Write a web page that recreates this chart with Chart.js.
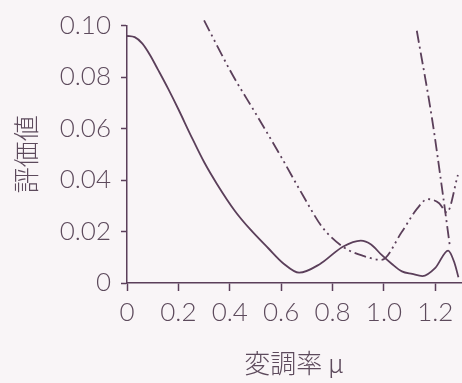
<!DOCTYPE html>
<html>
<head>
<meta charset="utf-8">
<script src="https://cdn.jsdelivr.net/npm/chart.js@4.4.0/dist/chart.umd.min.js"></script>
<style>
  html, body { margin: 0; padding: 0; background: #f9f5f7; }
  #wrap { width: 462px; height: 383px; position: relative; }
</style>
</head>
<body>
<div id="wrap"><canvas id="chart"></canvas></div>
<script>
// values
var solidX = [0, 0.03, 0.06, 0.09, 0.12, 0.16, 0.20, 0.25, 0.30, 0.35, 0.42, 0.48, 0.55, 0.61, 0.67, 0.75, 0.84, 0.91, 0.95, 0.99, 1.03, 1.07, 1.11, 1.15, 1.20, 1.25, 1.275, 1.29];
var solidY = [0.096, 0.0955, 0.093, 0.0885, 0.083, 0.0755, 0.0675, 0.057, 0.047, 0.0385, 0.028, 0.0208, 0.0135, 0.0075, 0.004, 0.0073, 0.0141, 0.0165, 0.015, 0.011, 0.0075, 0.0045, 0.0035, 0.0027, 0.0059, 0.0126, 0.0077, 0.0022];

var dashDotDotX = [0.30, 0.41, 0.50, 0.60, 0.685, 0.76, 0.84, 0.92, 0.99, 1.07, 1.13, 1.17, 1.215, 1.245, 1.288];
var dashDotDotY = [0.102, 0.081, 0.066, 0.049, 0.034, 0.0217, 0.0141, 0.0105, 0.009, 0.0199, 0.029, 0.0326, 0.031, 0.0274, 0.042];

var dashDotX = [1.128, 1.187, 1.23, 1.257];
var dashDotY = [0.098, 0.064, 0.034, 0.014];

var xTicks = [0, 0.2, 0.4, 0.6, 0.8, 1.0, 1.2];
var yTicks = [0, 0.02, 0.04, 0.06, 0.08, 0.10];

var INK = '#5b3f5a';
var TEXT = '#5d4a5c';

function toPoints(xs, ys) {
  return xs.map(function (x, i) { return { x: x, y: ys[i] }; });
}

function lineSet(xs, ys, dash, width) {
  return {
    data: toPoints(xs, ys),
    borderColor: INK,
    borderWidth: width,
    borderDash: dash,
    pointRadius: 0,
    cubicInterpolationMode: 'monotone',
    fill: false,
    clip: false,
  };
}

var tickFont = { family: 'Lato', weight: 300, size: 26 };
var titleFont = { family: 'Noto Sans CJK JP', weight: 300, size: 26 };

new Chart(document.getElementById('chart').getContext('2d'), {
  type: 'line',
  data: {
    datasets: [
      lineSet(solidX, solidY, [], 1.8),
      lineSet(dashDotDotX, dashDotDotY, [12, 4, 2, 4, 2, 4], 1.8),
      lineSet(dashDotX, dashDotY, [12, 4, 2, 4], 1.8),
    ],
  },
  options: {
    responsive: true,
    maintainAspectRatio: false,
    animation: false,
    layout: { padding: { top: 25, right: 1, left: 0, bottom: 0 } },
    plugins: { legend: { display: false }, tooltip: { enabled: false } },
    scales: {
      x: {
        type: 'linear',
        min: 0,
        max: 1.3,
        afterBuildTicks: function (scale) {
          scale.ticks = xTicks.map(function (v) { return { value: v }; });
        },
        afterFit: function (scale) { scale.height = 100; },
        border: { display: true, color: INK, width: 1.5 },
        grid: { drawOnChartArea: false, color: INK, tickLength: 8, tickWidth: 1.5 },
        ticks: {
          color: TEXT,
          font: tickFont,
          padding: 6,
          maxRotation: 0,
          callback: function (v) { return v === 0 ? '0' : v.toFixed(1); },
        },
        title: { display: true, text: '変調率 μ', color: TEXT, font: titleFont, padding: { top: 0, bottom: 4 } },
      },
      y: {
        min: 0,
        max: 0.1,
        afterBuildTicks: function (scale) {
          scale.ticks = yTicks.map(function (v) { return { value: v }; });
        },
        afterFit: function (scale) { scale.width = 127; },
        border: { display: true, color: INK, width: 1.5 },
        grid: { drawOnChartArea: false, color: INK, tickLength: 6, tickWidth: 1.5 },
        ticks: {
          color: TEXT,
          font: tickFont,
          padding: 10,
          callback: function (v) { return v === 0 ? '0' : v.toFixed(2); },
        },
        title: { display: true, text: '評価値', color: TEXT, font: titleFont, padding: { top: 11, bottom: 0 } },
      },
    },
  },
});
</script>
</body>
</html>
